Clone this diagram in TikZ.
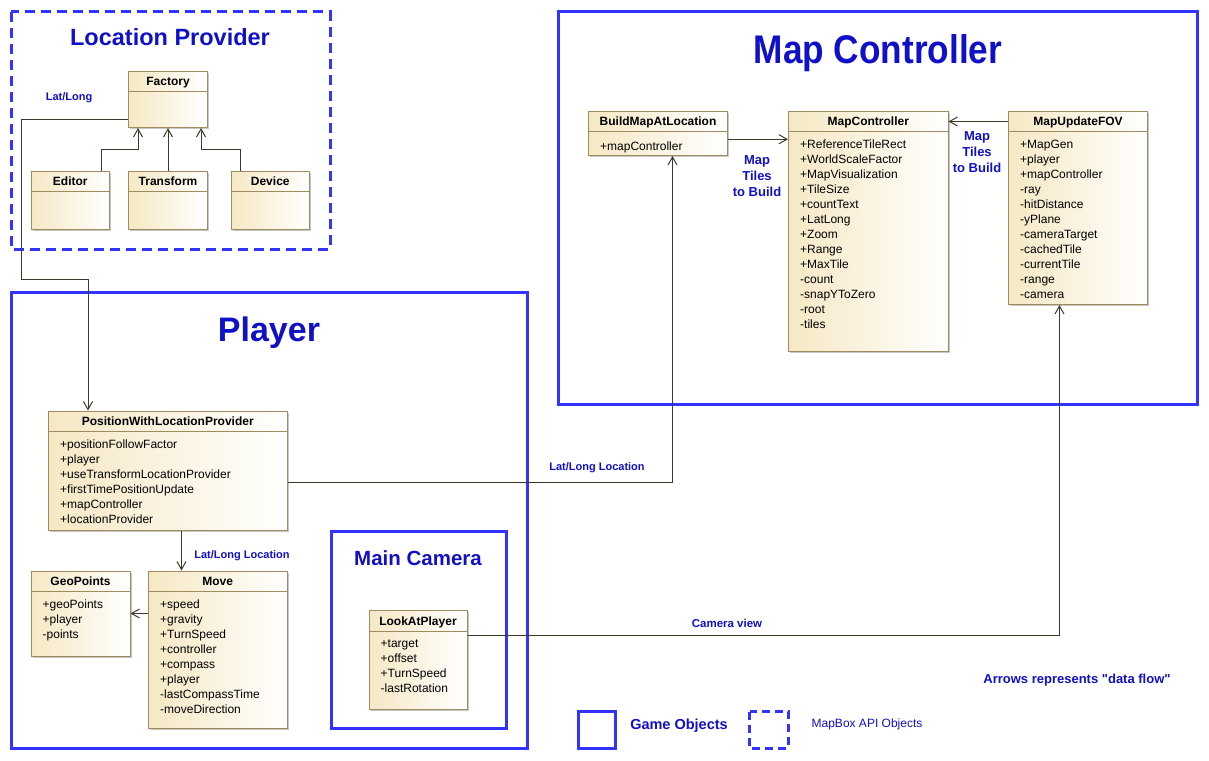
\documentclass[tikz,border=0pt]{standalone}
\usepackage{fontspec}
\setmainfont{Liberation Sans}
\usepackage{tikz}
\usetikzlibrary{arrows.meta, calc, shadows}

\definecolor{frameblue}{HTML}{3333FF}
\definecolor{titleblue}{HTML}{1010C8}
\definecolor{clsfill}{HTML}{F6E8C4}
\definecolor{clsborder}{HTML}{9E8B5F}
\definecolor{flowline}{HTML}{40382A}

\tikzset{
  frame/.style={draw=frameblue, line width=3pt},
  apiframe/.style={frame, dash pattern=on 10pt off 6pt},
  cls/.style={draw=clsborder, left color=clsfill, right color=white, line width=1pt,
    rectangle, inner sep=0pt, anchor=north west,
    general shadow={fill=black!22, shadow xshift=1.5pt, shadow yshift=-1.5pt}},
  clsrule/.style={draw=clsborder, line width=1pt},
  clshead/.style={font=\fontsize{12}{15}\selectfont\bfseries, anchor=base, inner sep=0pt},
  clsattr/.style={font=\fontsize{12}{15}\selectfont, align=left, anchor=north west,
    inner sep=0pt, execute at begin node=\rule{0pt}{10.5pt}},
  flow/.style={draw=flowline, line width=1pt, -{Straight Barb[length=8pt,width=9pt]}},
  bigtitle/.style={text=titleblue, anchor=base, inner sep=0pt},
  flowlabel/.style={text=titleblue, font=\fontsize{11}{13}\selectfont\bfseries},
}

% name, x, y, width, height, title, attributes
\newcommand{\umlclass}[7]{%
  \node[cls, minimum width=#4pt, minimum height=#5pt] (#1) at (#2,#3) {};
  \draw[clsrule] ([yshift=-21pt]#1.north west) -- ([yshift=-21pt]#1.north east);
  \node[clshead] (#1-title) at ([yshift=-15.4pt]#1.north) {#6};
  \node[clsattr] (#1-attr) at ([xshift=12pt,yshift=-29.5pt]#1.north west) {#7};
}

\begin{document}
\begin{tikzpicture}[x=1pt, y=-1pt]
    \useasboundingbox (0,0) rectangle (1209,760);

    % frames
    \draw[apiframe] (11,12) rectangle (330,249);
    \draw[frame] (558,12) rectangle (1197,404);
    \draw[frame] (11,292) rectangle (527,748);
    \draw[frame] (331,531.5) rectangle (506.5,728);

    \node[bigtitle, font=\fontsize{23.5}{28}\selectfont\bfseries] (lptitle) at (170,45.7) {Location Provider};
    \node[bigtitle, font=\fontsize{40}{46}\selectfont\bfseries, xscale=0.88] (mctitle) at (878,63.3) {Map Controller};
    \node[bigtitle, font=\fontsize{34}{40}\selectfont\bfseries] (pltitle) at (269,341.7) {Player};
    \node[bigtitle, font=\fontsize{20.5}{25}\selectfont\bfseries] (camtitle) at (418,565.7) {Main Camera};

    % location provider
    \umlclass{factory}{128}{70.5}{79}{56.5}{Factory}{}
    \umlclass{editor}{30.5}{170.5}{78.5}{58.5}{Editor}{}
    \umlclass{transform}{128}{170.5}{79}{58.5}{Transform}{}
    \umlclass{device}{230.5}{170.5}{78.5}{58.5}{Device}{}

    % map controller
    \umlclass{build}{588}{110.5}{139}{44.5}{BuildMapAtLocation}{+mapController}
    \umlclass{mapctrl}{788}{110.5}{159.5}{240.5}{MapController}{+ReferenceTileRect\\+WorldScaleFactor\\+MapVisualization\\+TileSize\\+countText\\+LatLong\\+Zoom\\+Range\\+MaxTile\\-count\\-snapYToZero\\-root\\-tiles}
    \umlclass{fov}{1008}{110.5}{139}{193.5}{MapUpdateFOV}{+MapGen\\+player\\+mapController\\-ray\\-hitDistance\\-yPlane\\-cameraTarget\\-cachedTile\\-currentTile\\-range\\-camera}

    % player
    \umlclass{pwlp}{48}{410.5}{238.5}{119.5}{PositionWithLocationProvider}{+positionFollowFactor\\+player\\+useTransformLocationProvider\\+firstTimePositionUpdate\\+mapController\\+locationProvider}
    \umlclass{move}{148}{570.5}{138.5}{157.5}{Move}{+speed\\+gravity\\+TurnSpeed\\+controller\\+compass\\+player\\-lastCompassTime\\-moveDirection}
    \umlclass{geo}{30.5}{570.5}{99}{85}{GeoPoints}{+geoPoints\\+player\\-points}
    \umlclass{look}{368.5}{610}{98}{99}{LookAtPlayer}{+target\\+offset\\+TurnSpeed\\-lastRotation}

    % data flow
    \draw[flow] ([xshift=-9pt]editor.north east) -- ++(0,-21) -| ([xshift=10pt]factory.south west);
    \draw[flow] (transform.north) -- (factory.south);
    \draw[flow] ([xshift=10pt]device.north west) -- ++(0,-21) -| ([xshift=-7pt]factory.south east);
    \coordinate (lpbend) at (21,279);
    \draw[flow] ([yshift=9pt]factory.south west) -| (lpbend) -| ([xshift=40pt]pwlp.north west);
    \draw[flow] ([yshift=-12pt]pwlp.east) -| ([xshift=14.5pt]build.south);
    \draw[flow] ([xshift=133.5pt]pwlp.south west) -- ([xshift=33.5pt]move.north west);
    \draw[flow] (move.west |- geo.east) -- (geo.east);
    \draw[flow] ([yshift=-25pt]look.north east) -| ([xshift=-18.5pt]fov.south);
    \draw[flow] ([yshift=-6pt]build.east) -- ([yshift=-6pt]build.east -| mapctrl.west);
    \draw[flow] ([yshift=-11pt]fov.north west) -- ([yshift=-11pt]fov.north west -| mapctrl.east);

    \node[flowlabel] (lllabel) at (69,98) {Lat/Long};
    \node[flowlabel, font=\fontsize{13}{16}\selectfont\bfseries, align=center] (tiles1) at (757,176.5) {Map\\Tiles\\to Build};
    \node[flowlabel, font=\fontsize{13}{16}\selectfont\bfseries, align=center] (tiles2) at (977,152.5) {Map\\Tiles\\to Build};
    \node[flowlabel] (loclabel1) at (597,468) {Lat/Long Location};
    \node[flowlabel] (loclabel2) at (242,556) {Lat/Long Location};
    \node[flowlabel, font=\fontsize{11.5}{14}\selectfont\bfseries] (camlabel) at (727,623.5) {Camera view};
    \node[flowlabel, font=\fontsize{13}{16}\selectfont\bfseries] (note) at (1077,680) {Arrows represents \textquotedbl data flow\textquotedbl};

    % legend
    \draw[frame] (578.5,711.5) rectangle (615,748);
    \draw[apiframe, dash pattern=on 8pt off 5pt] (749.5,711.5) rectangle (788,748);
    \node[flowlabel, font=\fontsize{14.5}{17}\selectfont\bfseries] (gamelabel) at (679,725.5) {Game Objects};
    \node[flowlabel, font=\fontsize{12}{14}\selectfont] (apilabel) at (867,724.5) {MapBox API Objects};
\end{tikzpicture}
\end{document}
